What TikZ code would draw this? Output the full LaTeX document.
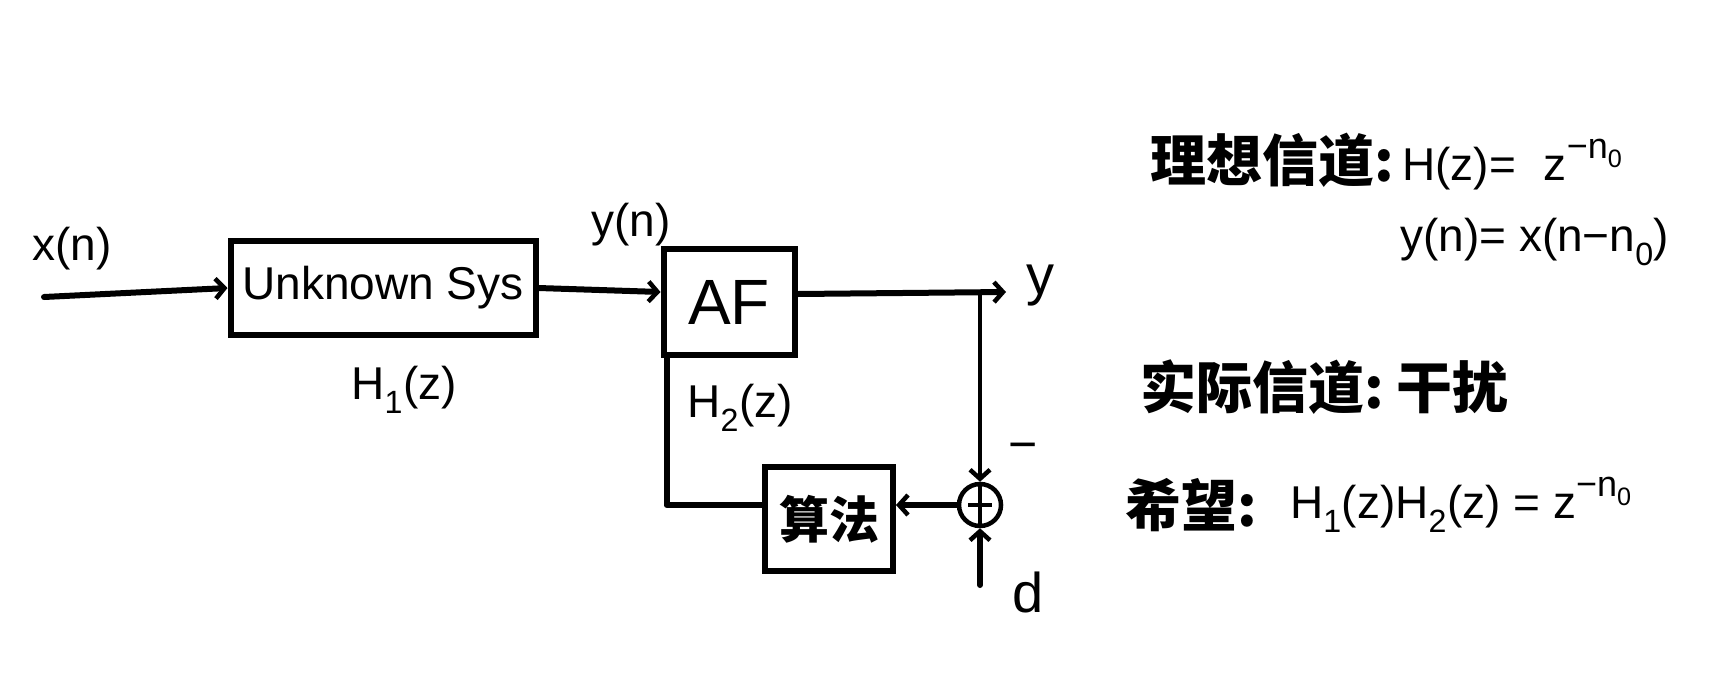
\documentclass[tikz,border=0pt]{standalone}
\usepackage{fontspec}
\setmainfont{Liberation Sans}
\newfontfamily\cjk{Noto Sans CJK SC}
\usetikzlibrary{arrows.meta}
\newcommand{\myfs}[1]{\fontsize{#1}{#1}\selectfont}
\newcommand{\supexp}{\raisebox{22pt}{\myfs{36}−n\textsubscript{0}}}
\begin{document}
\begin{tikzpicture}[x=1pt,y=-1pt,
  wire/.style={line width=6pt,line cap=round,line join=round},
  arr/.style={wire,-{Straight Barb[length=9pt,width=20pt,line width=4.5pt]}},
  blk/.style={draw,line width=6pt,inner sep=0pt},
  txt/.style={inner sep=0pt,font=\myfs{46}}]
\useasboundingbox (0,0) rectangle (1736,678);

% blocks
\node[blk,minimum width=305pt,minimum height=94pt,font=\myfs{46}] (unk) at (383,288) {Unknown Sys};
\node[blk,minimum width=131pt,minimum height=106pt,font=\myfs{64}] (af) at (729,302) {AF};
\node[blk,minimum width=128pt,minimum height=104pt,font=\cjk\bfseries\myfs{50}] (alg) at (829,519) {算法};
\node[draw,circle,line width=4.5pt,minimum size=42pt,inner sep=0pt] (sum) at (980,505) {};
\draw[line width=4.5pt] (sum.north) -- (sum.south)
  ([xshift=-12pt]sum.center) -- ([xshift=12pt]sum.center);

% free ends
\coordinate (xin) at (44,297);
\coordinate (yout) at (1006,292);
\coordinate (din) at (980,585);

% connectors
\draw[arr] (xin) -- (unk.west);
\draw[arr] (unk.east) -- ([yshift=10pt]af.west);
\draw[arr] ([yshift=8pt]af.east) -- (yout);
\draw[arr,line width=4pt] (sum |- yout) -- (sum.north);
\draw[arr] (din) -- (sum.south);
\draw[arr] (sum.west) -- (alg.east |- sum.west);
\draw[wire] (alg.west |- sum.west) -| ([xshift=6pt]af.south west);

% labels
\node[txt] (xl) at (72,249) {x(n)};
\node[txt] (yl) at (631,225) {y(n)};
\node[txt] (h1) at (404,390) {H\textsubscript{1}(z)};
\node[txt] (h2) at (740,408) {H\textsubscript{2}(z)};
\node[txt,font=\myfs{56}] (ylab) at (1040,286) {y};
\node[txt,font=\myfs{56}] (dlab) at (1028,592) {d};
\node[txt,font=\myfs{50}] (minus) at (1023,452) {−};

% right-hand notes
\node[txt,anchor=west,font=\cjk\bfseries\myfs{56}] (l1) at (1150,160) {理想信道:};
\node[txt,anchor=west] (f1) at (1402,165) {H(z)=\hspace{28pt}z\supexp};
\node[txt,anchor=west] (f2) at (1400,242) {y(n)= x(n−n\textsubscript{0})};
\node[txt,anchor=west,font=\cjk\bfseries\myfs{56}] (l2) at (1140,387) {实际信道:\ 干扰};
\node[txt,anchor=west,font=\cjk\bfseries\myfs{56}] (l3) at (1125,505) {希望:};
\node[txt,anchor=west] (f3) at (1290,505) {H\textsubscript{1}(z)H\textsubscript{2}(z) = z\supexp};
\end{tikzpicture}
\end{document}
